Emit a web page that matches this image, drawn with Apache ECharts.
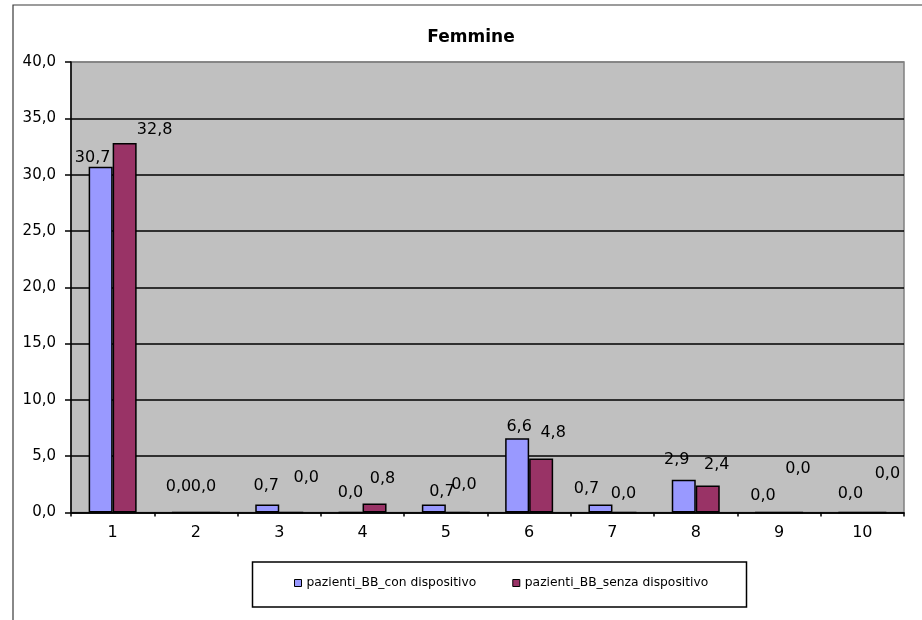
<!DOCTYPE html>
<html>
<head>
<meta charset="utf-8">
<title>Femmine</title>
<script src="https://cdn.jsdelivr.net/npm/echarts@6/dist/echarts.min.js"></script>
<style>
  html, body { margin: 0; padding: 0; background: #ffffff; }
  #chart { width: 922px; height: 620px; }
</style>
</head>
<body>
<div id="chart"></div>
<script>
// Category labels along the x axis
const categories = ['1', '2', '3', '4', '5', '6', '7', '8', '9', '10'];

// Series values (percent)
const conDispositivo   = [30.7, 0.0, 0.7, 0.0, 0.7, 6.6, 0.7, 2.9, 0.0, 0.0];
const senzaDispositivo = [32.8, 0.0, 0.0, 0.8, 0.0, 4.8, 0.0, 2.4, 0.0, 0.0];

const seriesNames = ['pazienti_BB_con dispositivo', 'pazienti_BB_senza dispositivo'];

// Data label nudges [dx, dy] in pixels, one per bar
const conLabelShift = [[-8, -1], [-5.5, -16.5], [-1, -10.6], [0, -10.5], [8, -5],
                       [2, -3.5], [-14, -7.6], [-7, -12], [-4, -8], [0, -9.5]];
const senzaLabelShift = [[30, -5], [-4.5, -16.5], [15, -25.5], [8, -16.5], [6, -18.5],
                         [12, -18], [-1, -9.5], [9, -12.5], [7, -34.5], [13, -29.5]];

const FONT = '"DejaVu Sans", "Liberation Sans", Arial, sans-serif';
const fmt = v => Number(v).toFixed(1).replace('.', ',');

function buildData(values, shifts) {
  return values.map((v, i) => ({
    value: v,
    label: { offset: shifts[i] }
  }));
}

const chart = echarts.init(document.getElementById('chart'), null, { renderer: 'canvas' });

const labelStyle = {
  show: true,
  position: 'top',
  distance: 0,
  fontSize: 16,
  color: '#000000',
  fontFamily: FONT,
  formatter: p => fmt(p.value)
};

const option = {
  animation: false,
  backgroundColor: '#ffffff',
  textStyle: { fontFamily: FONT },
  graphic: [
    {
      type: 'rect',
      shape: { x: 13, y: 5, width: 1000, height: 700 },
      style: { fill: 'none', stroke: '#3a3a3a', lineWidth: 1.2 },
      silent: true,
      z: -1
    },
    {
      type: 'text',
      x: 471,
      y: 38,
      style: {
        text: 'Femmine',
        font: 'bold 17px ' + FONT,
        fill: '#000000',
        align: 'center',
        verticalAlign: 'middle'
      }
    },
    {
      type: 'rect',
      shape: { x: 252.5, y: 562, width: 494, height: 45 },
      style: { fill: '#ffffff', stroke: '#000000', lineWidth: 1.5 },
      silent: true
    }
  ],
  grid: {
    left: 71,
    top: 62,
    right: 18,
    bottom: 107.5,
    show: true,
    backgroundColor: '#C0C0C0',
    borderColor: '#808080',
    borderWidth: 1.5,
    containLabel: false
  },
  legend: {
    data: seriesNames,
    left: 294,
    top: 577,
    padding: 0,
    itemWidth: 7,
    itemHeight: 7,
    itemGap: 36,
    icon: 'rect',
    textStyle: { fontSize: 12.3, color: '#000000', fontFamily: FONT },
    itemStyle: { borderColor: '#000000', borderWidth: 1 }
  },
  xAxis: {
    type: 'category',
    data: categories,
    boundaryGap: true,
    axisLine: { show: true, lineStyle: { color: '#000000', width: 1.5 } },
    axisTick: { show: true, inside: false, length: 4, interval: 0, lineStyle: { color: '#000000', width: 1.5 } },
    axisLabel: { fontSize: 16, color: '#000000', margin: 12, fontFamily: FONT, interval: 0 },
    splitLine: { show: false }
  },
  yAxis: {
    type: 'value',
    min: 0,
    max: 40,
    interval: 5,
    axisLine: { show: true, lineStyle: { color: '#000000', width: 1.5 } },
    axisTick: { show: true, inside: false, length: 6, lineStyle: { color: '#000000', width: 1.5 } },
    axisLabel: { fontSize: 15, color: '#000000', margin: 15, fontFamily: FONT, formatter: v => fmt(v) },
    splitLine: {
      show: true,
      lineStyle: {
        color: ['#000000', '#000000', '#000000', '#000000', '#000000', '#000000', '#000000', '#000000', '#808080'],
        width: 1.5
      }
    }
  },
  series: [
    {
      name: seriesNames[0],
      type: 'bar',
      barWidth: 24,
      barGap: '0%',
      data: buildData(conDispositivo, conLabelShift),
      itemStyle: { color: '#9999FF', borderColor: '#000000', borderWidth: 1.5 },
      label: labelStyle
    },
    {
      name: seriesNames[1],
      type: 'bar',
      barWidth: 24,
      barGap: '0%',
      data: buildData(senzaDispositivo, senzaLabelShift),
      itemStyle: { color: '#993366', borderColor: '#000000', borderWidth: 1.5 },
      label: labelStyle
    }
  ]
};

chart.setOption(option);
</script>
</body>
</html>
